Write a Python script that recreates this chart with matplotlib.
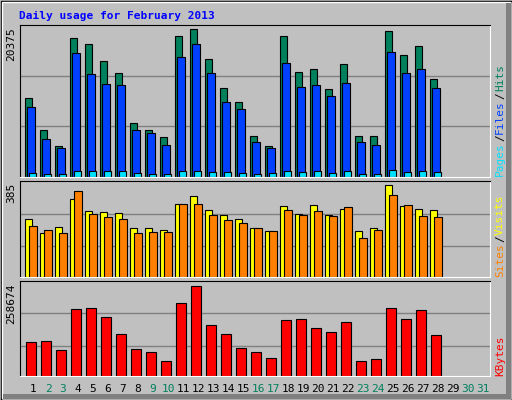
import matplotlib
matplotlib.use("Agg")
import matplotlib.pyplot as plt
from matplotlib.patches import Rectangle
import numpy as np

days = list(range(1, 32))
weekend = [2, 3, 9, 10, 16, 17, 23, 24, 30, 31]
hits = [10880, 6450, 4240, 19130, 18300, 15950, 14290, 7370, 6540, 5440,
        19430, 20375, 16230, 12220, 10280, 5580, 4330, 19410, 14430, 14840,
        12080, 15540, 5580, 5580, 20100, 16780, 18020, 13460]
files = [9640, 5210, 3960, 17060, 14150, 12770, 12630, 6410, 6000, 4470,
         16500, 18300, 14290, 10280, 9310, 4840, 3960, 15670, 12350, 12630,
         11110, 12960, 4840, 4470, 17200, 14290, 14840, 12310]
pages = [600, 460, 460, 880, 880, 880, 880, 600, 460, 460,
         880, 880, 740, 740, 600, 460, 600, 880, 740, 880,
         600, 880, 460, 460, 1010, 740, 880, 740]
visits = [242, 180, 209, 326, 276, 272, 267, 205, 201, 196,
          302, 335, 280, 259, 242, 201, 192, 295, 262, 300,
          259, 284, 192, 201, 385, 295, 284, 280]
sites = [213, 196, 183, 356, 262, 249, 241, 183, 188, 188,
         302, 302, 259, 237, 225, 204, 192, 280, 259, 276,
         255, 291, 163, 196, 340, 300, 255, 251]
kbytes = [94410, 97240, 71750, 190070, 192900, 167400, 119190, 76470, 67970, 42480,
          207060, 255220, 144740, 119190, 79300, 67970, 50980, 157000, 159830, 134340,
          123000, 151340, 42480, 48150, 192900, 161720, 187240, 116360]

W, H = 512, 400
fig = plt.figure(figsize=(W / 100, H / 100), dpi=100)
fig.patch.set_facecolor("#C0C0C0")
mono = "DejaVu Sans Mono"

fig.add_artist(Rectangle((0.5 / W, 0.5 / H), 1 - 1 / W, 1 - 1 / H, transform=fig.transFigure,
                         fill=False, ec="black", lw=1))
fig.add_artist(Rectangle((2 / W, 2 / H), 1 - 4 / W, 1 - 4 / H, transform=fig.transFigure,
                         fill=False, ec="white", lw=1))
fig.add_artist(Rectangle((3 / W, 1 / H), 1 - 4 / W, 5 / H, transform=fig.transFigure,
                         color="#808080", lw=0))
fig.add_artist(Rectangle((1 - 6 / W, 1 / H), 5 / W, 1 - 4 / H, transform=fig.transFigure,
                         color="#808080", lw=0))

fig.text(19 / W, 1 - 16 / H, "Daily usage for February 2013", color="#0000FF",
         fontsize=8, family=mono, fontweight="bold", va="center", ha="left")

x0, x1 = 20, 490
XMAX = (x1 - x0) / 15.0


def mkax(top, base):
    ax = fig.add_axes([x0 / W, 1 - base / H, (x1 - x0) / W, (base - top) / H])
    ax.set_facecolor("#C0C0C0")
    ax.set_xlim(0, XMAX)
    ax.set_xticks([])
    ax.set_yticks([])
    for s in ["top", "left"]:
        ax.spines[s].set_color("black")
    for s in ["bottom", "right"]:
        ax.spines[s].set_color("white")
    return ax


n = len(hits)
xs = np.arange(n)

ax1 = mkax(25, 177)
ym1 = 20375 * 454 / 442
ax1.set_ylim(0, ym1)
for g in [1, 2]:
    ax1.axhline(ym1 * g / 3, color="#808080", lw=1, zorder=0)
ax1.bar(xs + 5 / 15, hits, width=7 / 15, align="edge", color="#00805C", ec="black", lw=0.8)
ax1.bar(xs + 7 / 15, files, width=8 / 15, align="edge", color="#0040FF", ec="black", lw=0.8)
ax1.bar(xs + 9 / 15, pages, width=7 / 15, align="edge", color="#00E0FF", ec="black", lw=0.8)

ax2 = mkax(180.5, 276.5)
ym2 = 385 * 288 / 276
ax2.set_ylim(0, ym2)
for g in [91, 189]:
    ax2.axhline(ym2 * g / 288, color="#808080", lw=1, zorder=0)
ax2.bar(xs + 5 / 15, visits, width=7 / 15, align="edge", color="#FFFF00", ec="black", lw=0.8)
ax2.bar(xs + 9 / 15, sites, width=8 / 15, align="edge", color="#FF8000", ec="black", lw=0.8)

ax3 = mkax(280.5, 375.7)
ym3 = 258674 * 286 / 274
ax3.set_ylim(0, ym3)
for g in [88, 187]:
    ax3.axhline(ym3 * g / 286, color="#808080", lw=1, zorder=0)
ax3.bar(xs + 6 / 15, kbytes, width=10 / 15, align="edge", color="#FF0000", ec="black", lw=0.8)

for top, lab in [(25, "20375"), (181, "385"), (281, "258674")]:
    fig.text(11 / W, 1 - (top + 2) / H, lab, rotation=90, fontsize=8, family=mono,
             va="top", ha="center", color="black")

renderer = fig.canvas.get_renderer()


def legend(base_y, parts):
    y = base_y
    for txt, col in parts:
        t = fig.text(500 / W, 1 - y / H, txt, rotation=90, fontsize=8, family=mono,
                     color=col, va="bottom", ha="center")
        bb = t.get_window_extent(renderer)
        y -= bb.height + 1


legend(176, [("Pages", "#00E0FF"), ("/", "#000000"), ("Files", "#0040FF"),
             ("/", "#000000"), ("Hits", "#00805C")])
legend(277, [("Sites", "#FF8000"), ("/", "#000000"), ("Visits", "#FFFF00")])
legend(376, [("KBytes", "#FF0000")])

for d in days:
    col = "#00805C" if d in weekend else "black"
    fig.text((x0 + (d - 1) * 15 + 13) / W, 1 - 389 / H, str(d), fontsize=8,
             family=mono, color=col, ha="center", va="center")

fig.savefig("out.png", dpi=100, facecolor=fig.get_facecolor())
